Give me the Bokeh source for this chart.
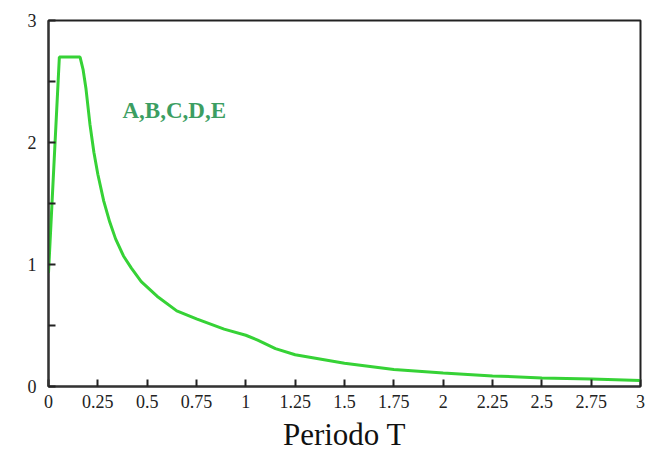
from bokeh.plotting import figure
from bokeh.models import FixedTicker, Label, Range1d
from bokeh.embed import file_html
from bokeh.resources import INLINE

# Spectrum data (periodo T vs spectral value)
periodo = [0.0, 0.055, 0.16, 0.175, 0.19, 0.21, 0.23, 0.25, 0.28, 0.31, 0.34, 0.38, 0.42,
           0.47, 0.55, 0.65, 0.75, 0.89, 1.0, 1.06, 1.15, 1.25, 1.5, 1.75, 2.0, 2.25,
           2.5, 2.75, 3.0]
espectro = [0.93, 2.7, 2.7, 2.6, 2.44, 2.15, 1.92, 1.74, 1.52, 1.35, 1.21, 1.07, 0.97,
            0.86, 0.74, 0.62, 0.555, 0.47, 0.42, 0.38, 0.31, 0.26, 0.19, 0.14, 0.11,
            0.087, 0.07, 0.062, 0.05]

x_ticks = [0, 0.25, 0.5, 0.75, 1, 1.25, 1.5, 1.75, 2, 2.25, 2.5, 2.75, 3]
x_tick_labels = ["0", "0.25", "0.5", "0.75", "1", "1.25", "1.5", "1.75", "2",
                 "2.25", "2.5", "2.75", "3"]
y_ticks = [0, 1, 2, 3]
y_minor_ticks = [0.5, 1.5, 2.5]
series_label = "A,B,C,D,E"
x_title = "Periodo T"

p = figure(width=645, height=454, output_backend="svg", toolbar_location=None,
           x_range=Range1d(0, 3), y_range=Range1d(0, 3),
           min_border_left=48, min_border_right=5, min_border_top=20, min_border_bottom=66)
p.background_fill_color = "white"
p.border_fill_color = "white"
p.outline_line_color = "#222222"
p.outline_line_width = 2
p.grid.visible = False

p.line(periodo, espectro, line_color="#36d236", line_width=3)

serif = "Liberation Serif"

xa = p.xaxis[0]
xa.ticker = FixedTicker(ticks=x_ticks, minor_ticks=[])
xa.major_label_overrides = {t: l for t, l in zip(x_ticks, x_tick_labels)}
xa.axis_label = x_title
xa.axis_label_text_font = serif
xa.axis_label_text_font_style = "normal"
xa.axis_label_text_font_size = "31px"
xa.axis_label_text_color = "#111111"
xa.axis_label_standoff = 6
xa.major_label_text_font = serif
xa.major_label_text_font_size = "18px"
xa.major_label_text_color = "#222222"
xa.major_label_standoff = 8
xa.major_tick_in = 7
xa.major_tick_out = 0
xa.major_tick_line_width = 2
xa.major_tick_line_color = "#222222"
xa.axis_line_width = 2
xa.axis_line_color = "#333333"

ya = p.yaxis[0]
ya.ticker = FixedTicker(ticks=y_ticks, minor_ticks=y_minor_ticks)
ya.major_label_text_font = serif
ya.major_label_text_font_size = "18px"
ya.major_label_text_color = "#222222"
ya.major_label_standoff = 12
ya.major_tick_in = 7
ya.major_tick_out = 0
ya.minor_tick_in = 7
ya.minor_tick_out = 0
ya.major_tick_line_width = 2
ya.minor_tick_line_width = 2
ya.major_tick_line_color = "#222222"
ya.minor_tick_line_color = "#222222"
ya.axis_line_width = 2
ya.axis_line_color = "#333333"

lab = Label(x=0.375, y=2.26, text=series_label, text_font=serif,
            text_font_style="bold", text_font_size="23px", text_color="#3c9e62",
            text_baseline="middle", text_align="left")
p.add_layout(lab)

open("out.html", "w").write(file_html(p, INLINE))
